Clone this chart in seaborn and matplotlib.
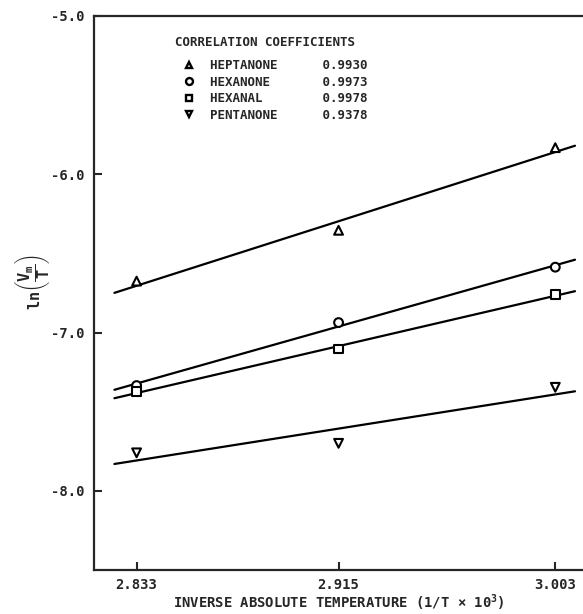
"""Plot of ln(Vm/T) against inverse absolute temperature for four compounds."""

import matplotlib
matplotlib.use("Agg")
import matplotlib.pyplot as plt
import numpy as np
import pandas as pd
import seaborn as sns
from matplotlib.lines import Line2D

# Data.
COMPOUNDS = ["HEPTANONE", "HEXANONE", "HEXANAL", "PENTANONE"]
CORRELATIONS = ["0.9930", "0.9973", "0.9978", "0.9378"]
INV_TEMP = [2.833, 2.915, 3.003]
HEPTANONE = [-6.675, -6.354, -5.832]
HEXANONE = [-7.335, -6.937, -6.587]
HEXANAL = [-7.373, -7.104, -6.759]
PENTANONE = [-7.760, -7.700, -7.346]
X_TICKS = [2.833, 2.915, 3.003]
Y_TICKS = [-5.0, -6.0, -7.0, -8.0]

MARKERS = {"HEPTANONE": "^", "HEXANONE": "o", "HEXANAL": "s", "PENTANONE": "v"}
LINE_SPAN = (2.824, 3.011)
FONT = "DejaVu Sans Mono"


def _build_frame() -> pd.DataFrame:
    rows = []
    for name, values in zip(COMPOUNDS, [HEPTANONE, HEXANONE, HEXANAL, PENTANONE]):
        for x, y in zip(INV_TEMP, values):
            rows.append({"compound": name, "inv_temp": x, "ln_v": y})
    return pd.DataFrame(rows)


def _main() -> None:
    sns.set_style("ticks")
    plt.rcParams["font.family"] = [FONT, "DejaVu Sans"]
    plt.rcParams["font.weight"] = "bold"
    plt.rcParams["axes.labelweight"] = "bold"
    plt.rcParams["mathtext.fontset"] = "custom"
    plt.rcParams["mathtext.rm"] = FONT + ":bold"
    plt.rcParams["mathtext.it"] = FONT + ":bold"
    plt.rcParams["mathtext.bf"] = FONT + ":bold"

    df = _build_frame()

    fig = plt.figure(figsize=(5.83, 6.14), dpi=100)
    ax = fig.add_axes([0.1612, 0.0717, 0.8388, 0.9023])

    # Least-squares lines through each compound's points.
    xs = np.linspace(LINE_SPAN[0], LINE_SPAN[1], 50)
    for name in COMPOUNDS:
        sub = df[df.compound == name]
        slope, icpt = np.polyfit(sub.inv_temp, sub.ln_v, 1)
        ax.plot(xs, slope * xs + icpt, color="black", lw=1.6, zorder=2)

    sns.scatterplot(data=df, x="inv_temp", y="ln_v", style="compound",
                    markers=MARKERS, color="white", edgecolor="black",
                    linewidth=1.5, s=40, legend=False, ax=ax, zorder=3)

    ax.set_xlim(2.8157, 3.01425)
    ax.set_ylim(-8.5, -5.0)
    ax.set_xticks(X_TICKS)
    ax.set_xticklabels([f"{t:.3f}" for t in X_TICKS])
    ax.set_yticks(Y_TICKS)
    ax.set_yticklabels([f"{t:.1f}" for t in Y_TICKS])
    ax.tick_params(direction="in", length=6, width=1.5, labelsize=10, pad=7)
    ax.tick_params(axis="x", pad=6)
    for side in ["left", "bottom", "top"]:
        ax.spines[side].set_linewidth(1.6)
    ax.spines["right"].set_visible(False)

    ax.set_xlabel(r"INVERSE ABSOLUTE TEMPERATURE (1/T $\times$ 10$^{3}$)",
                  fontsize=10, labelpad=0)
    ax.set_ylabel(r"$\mathregular{ln}\left(\dfrac{V_m}{T}\right)$", fontsize=11)
    ax.yaxis.set_label_coords(-0.085, 0.52)

    ax.text(0.1656, 0.9518, "CORRELATION COEFFICIENTS", transform=ax.transAxes,
            fontsize=9, va="center", ha="left")
    handles = [Line2D([], [], ls="none", marker=MARKERS[n], markersize=5,
                      markerfacecolor="white", markeredgecolor="black",
                      markeredgewidth=1.7) for n in COMPOUNDS]
    labels = [f"{n:<15}{c}" for n, c in zip(COMPOUNDS, CORRELATIONS)]
    ax.legend(handles, labels, loc="upper left", bbox_to_anchor=(0.1815, 0.9217),
              frameon=False, borderpad=0, borderaxespad=0, handlelength=1.0,
              handletextpad=1.18, labelspacing=0.28, prop={"size": 9})

    fig.savefig("out.png", dpi=100, facecolor="w")


if __name__ == "__main__":
    _main()
